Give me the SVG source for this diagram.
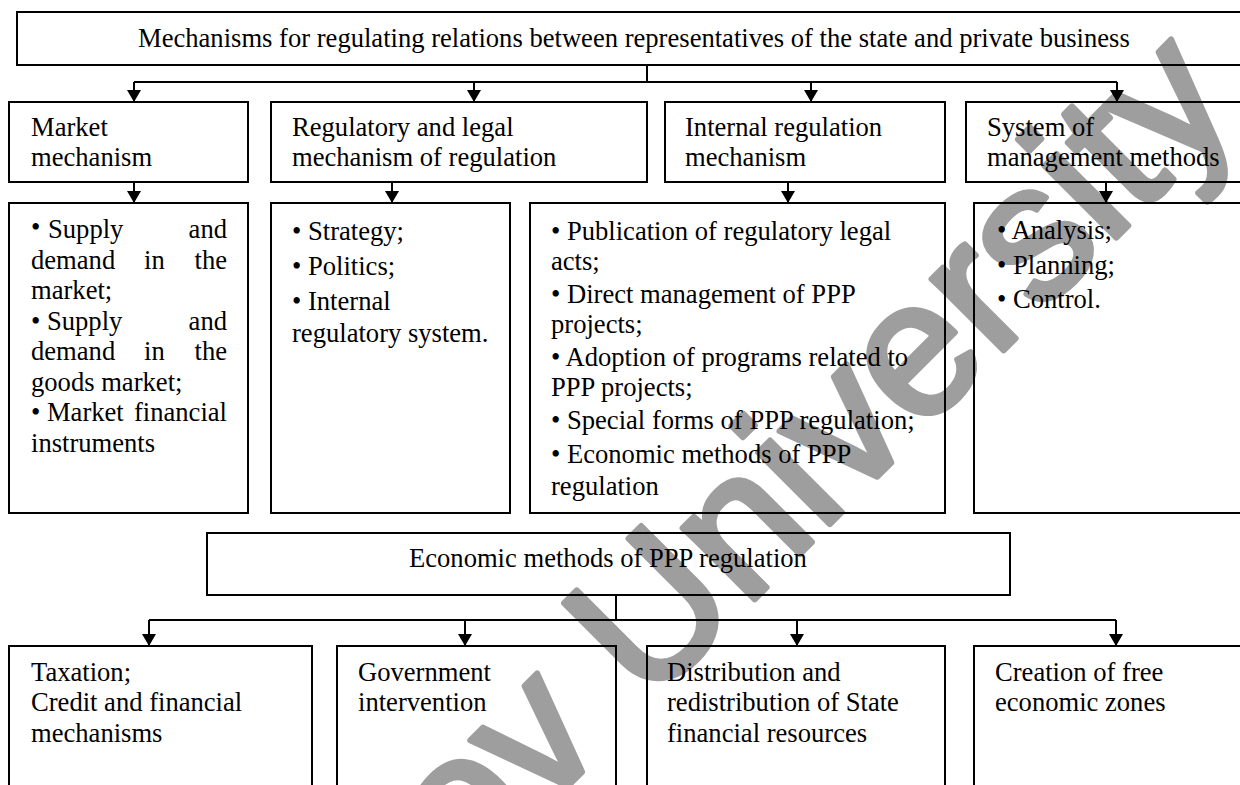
<svg xmlns="http://www.w3.org/2000/svg" width="1240" height="785" viewBox="0 0 1240 785">
<defs>
<style>
.box{fill:none;stroke:#000;stroke-width:2}
.ln{fill:none;stroke:#000;stroke-width:2}
.t{font-family:"Liberation Serif","Times New Roman",serif;font-size:26.6px;fill:#000}
.wm{font-family:"Liberation Sans",Arial,sans-serif;font-size:192px;fill:#9e9e9e;stroke:#9e9e9e;stroke-width:6;stroke-linejoin:round}
</style>
<marker id="ah" viewBox="0 0 12 14" refX="12" refY="7" markerWidth="12" markerHeight="14" markerUnits="userSpaceOnUse" orient="auto">
<path d="M0,0 L12,7 L0,14 z" fill="#000"/>
</marker>
</defs>
<rect width="1240" height="785" fill="#fff"/>
<text class="wm" transform="translate(466,888) rotate(-45)">ov University</text>

<g id="connectors">
<path class="ln" d="M647,65 V82 M134,82 H1117"/>
<path class="ln" d="M134,82 V102" marker-end="url(#ah)"/>
<path class="ln" d="M474,82 V102" marker-end="url(#ah)"/>
<path class="ln" d="M811,82 V102" marker-end="url(#ah)"/>
<path class="ln" d="M1117,82 V102" marker-end="url(#ah)"/>
<path class="ln" d="M134,182 V203" marker-end="url(#ah)"/>
<path class="ln" d="M392,182 V203" marker-end="url(#ah)"/>
<path class="ln" d="M788,182 V203" marker-end="url(#ah)"/>
<path class="ln" d="M1106,182 V203" marker-end="url(#ah)"/>
<path class="ln" d="M616,595 V620 M149,620 H1116"/>
<path class="ln" d="M149,620 V646" marker-end="url(#ah)"/>
<path class="ln" d="M465,620 V646" marker-end="url(#ah)"/>
<path class="ln" d="M797,620 V646" marker-end="url(#ah)"/>
<path class="ln" d="M1116,620 V646" marker-end="url(#ah)"/>
</g>

<g id="root">
<rect class="box" x="17" y="12" width="1240" height="53"/>
<text class="t" x="138" y="47">Mechanisms for regulating relations between representatives of the state and private business</text>
</g>

<g id="market">
<rect class="box" x="9" y="102" width="239" height="80"/>
<text class="t" x="31" y="136">Market</text>
<text class="t" x="31" y="166">mechanism</text>
</g>
<g id="regulatory">
<rect class="box" x="271" y="102" width="376" height="80"/>
<text class="t" x="292" y="136">Regulatory and legal</text>
<text class="t" x="292" y="166">mechanism of regulation</text>
</g>
<g id="internal">
<rect class="box" x="665" y="102" width="280" height="80"/>
<text class="t" x="685" y="136">Internal regulation</text>
<text class="t" x="685" y="166">mechanism</text>
</g>
<g id="system">
<rect class="box" x="966" y="102" width="290" height="80"/>
<text class="t" x="987" y="136">System of</text>
<text class="t" x="987" y="166">management methods</text>
</g>

<g id="market-items">
<rect class="box" x="9" y="203" width="239" height="310"/>
<text class="t" x="31" y="236" font-size="18">•</text>
<text class="t" x="48" y="238">Supply</text>
<text class="t" x="227" y="238" text-anchor="end">and</text>
<text class="t" x="31" y="268.5">demand</text>
<text class="t" x="144" y="268.5">in</text>
<text class="t" x="227" y="268.5" text-anchor="end">the</text>
<text class="t" x="31" y="299">market;</text>
<text class="t" x="31" y="329.5">• Supply</text>
<text class="t" x="227" y="329.5" text-anchor="end">and</text>
<text class="t" x="31" y="360">demand</text>
<text class="t" x="144" y="360">in</text>
<text class="t" x="227" y="360" text-anchor="end">the</text>
<text class="t" x="31" y="390.5">goods market;</text>
<text class="t" x="31" y="421">• Market</text>
<text class="t" x="227" y="421" text-anchor="end">financial</text>
<text class="t" x="31" y="451.5">instruments</text>
</g>

<g id="regulatory-items">
<rect class="box" x="271" y="203" width="239" height="310"/>
<text class="t" x="292" y="240">• Strategy;</text>
<text class="t" x="292" y="275">• Politics;</text>
<text class="t" x="292" y="310">• Internal</text>
<text class="t" x="292" y="342">regulatory system.</text>
</g>

<g id="internal-items">
<rect class="box" x="530" y="203" width="415" height="310"/>
<text class="t" x="551" y="240">• Publication of regulatory legal</text>
<text class="t" x="551" y="270">acts;</text>
<text class="t" x="551" y="303">• Direct management of PPP</text>
<text class="t" x="551" y="333">projects;</text>
<text class="t" x="551" y="366">• Adoption of programs related to</text>
<text class="t" x="551" y="396">PPP projects;</text>
<text class="t" x="551" y="429">• Special forms of PPP regulation;</text>
<text class="t" x="551" y="463">• Economic methods of PPP</text>
<text class="t" x="551" y="495">regulation</text>
</g>

<g id="system-items">
<rect class="box" x="974" y="203" width="280" height="310"/>
<text class="t" x="997" y="239">• Analysis;</text>
<text class="t" x="997" y="274">• Planning;</text>
<text class="t" x="997" y="308">• Control.</text>
</g>

<g id="economic">
<rect class="box" x="207" y="533" width="803" height="62"/>
<text class="t" x="409" y="567">Economic methods of PPP regulation</text>
</g>

<g id="taxation">
<rect class="box" x="9" y="646" width="303" height="160"/>
<text class="t" x="31" y="681">Taxation;</text>
<text class="t" x="31" y="711">Credit and financial</text>
<text class="t" x="31" y="742">mechanisms</text>
</g>
<g id="government">
<rect class="box" x="337" y="646" width="279" height="160"/>
<text class="t" x="358" y="681">Government</text>
<text class="t" x="358" y="711">intervention</text>
</g>
<g id="distribution">
<rect class="box" x="647" y="646" width="298" height="160"/>
<text class="t" x="667" y="681">Distribution and</text>
<text class="t" x="667" y="711">redistribution of State</text>
<text class="t" x="667" y="742">financial resources</text>
</g>
<g id="zones">
<rect class="box" x="974" y="646" width="280" height="160"/>
<text class="t" x="995" y="681">Creation of free</text>
<text class="t" x="995" y="711">economic zones</text>
</g>
</svg>
